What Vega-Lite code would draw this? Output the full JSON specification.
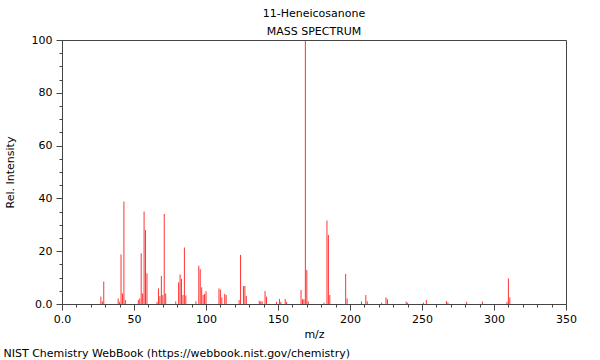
{
  "$schema": "https://vega.github.io/schema/vega-lite/v6.json",
  "width": 504,
  "height": 264,
  "autosize": {"type": "none"},
  "padding": {"left": 62, "top": 40, "right": 34, "bottom": 56},
  "background": "white",
  "title": {
    "text": ["11-Heneicosanone", "MASS SPECTRUM"],
    "fontSize": 11,
    "fontWeight": "normal",
    "font": "DejaVu Sans",
    "color": "#000000",
    "lineHeight": 18,
    "offset": -3,
    "anchor": "middle"
  },
  "config": {
    "view": {"stroke": "#444444", "strokeWidth": 1},
    "axis": {
      "labelFont": "DejaVu Sans",
      "titleFont": "DejaVu Sans",
      "labelFontSize": 11,
      "titleFontSize": 11,
      "titleFontWeight": "normal",
      "labelColor": "#000000",
      "titleColor": "#000000",
      "domainColor": "#444444",
      "tickColor": "#444444",
      "grid": false
    }
  },
  "data": {
    "values": [
      {"mz": 27, "intensity": 2.8}, {"mz": 28, "intensity": 1.0}, {"mz": 29, "intensity": 8.5},
      {"mz": 39, "intensity": 2.1}, {"mz": 40, "intensity": 0.8}, {"mz": 41, "intensity": 18.8},
      {"mz": 42, "intensity": 4.0}, {"mz": 43, "intensity": 38.8}, {"mz": 44, "intensity": 1.5},
      {"mz": 53, "intensity": 1.5}, {"mz": 54, "intensity": 2.1}, {"mz": 55, "intensity": 19.2},
      {"mz": 56, "intensity": 4.0}, {"mz": 57, "intensity": 35.0}, {"mz": 58, "intensity": 28.0},
      {"mz": 59, "intensity": 11.6}, {"mz": 66, "intensity": 0.8}, {"mz": 67, "intensity": 5.9},
      {"mz": 68, "intensity": 3.0}, {"mz": 69, "intensity": 10.6}, {"mz": 70, "intensity": 3.4},
      {"mz": 71, "intensity": 34.1}, {"mz": 72, "intensity": 4.0}, {"mz": 79, "intensity": 1.0},
      {"mz": 81, "intensity": 8.2}, {"mz": 82, "intensity": 11.2}, {"mz": 83, "intensity": 9.5},
      {"mz": 84, "intensity": 3.4}, {"mz": 85, "intensity": 21.4}, {"mz": 86, "intensity": 3.2},
      {"mz": 93, "intensity": 1.0}, {"mz": 95, "intensity": 14.5}, {"mz": 96, "intensity": 13.2},
      {"mz": 97, "intensity": 6.3}, {"mz": 98, "intensity": 3.4}, {"mz": 99, "intensity": 3.8},
      {"mz": 100, "intensity": 4.8}, {"mz": 109, "intensity": 5.9}, {"mz": 110, "intensity": 5.4},
      {"mz": 111, "intensity": 2.5}, {"mz": 113, "intensity": 3.8}, {"mz": 114, "intensity": 3.4},
      {"mz": 123, "intensity": 1.5}, {"mz": 124, "intensity": 18.6}, {"mz": 126, "intensity": 6.8},
      {"mz": 127, "intensity": 6.8}, {"mz": 128, "intensity": 3.0}, {"mz": 137, "intensity": 1.2},
      {"mz": 138, "intensity": 1.0}, {"mz": 139, "intensity": 1.0}, {"mz": 141, "intensity": 4.9},
      {"mz": 142, "intensity": 2.8}, {"mz": 149, "intensity": 0.8}, {"mz": 151, "intensity": 1.9},
      {"mz": 152, "intensity": 0.8}, {"mz": 155, "intensity": 1.9}, {"mz": 156, "intensity": 0.8},
      {"mz": 166, "intensity": 5.3}, {"mz": 167, "intensity": 1.8}, {"mz": 168, "intensity": 1.8},
      {"mz": 169, "intensity": 100}, {"mz": 170, "intensity": 12.9}, {"mz": 171, "intensity": 1.0},
      {"mz": 182, "intensity": 0.5}, {"mz": 184, "intensity": 31.6}, {"mz": 185, "intensity": 26.1},
      {"mz": 186, "intensity": 3.4}, {"mz": 197, "intensity": 11.4}, {"mz": 198, "intensity": 2.1},
      {"mz": 208, "intensity": 1.0}, {"mz": 211, "intensity": 3.4}, {"mz": 212, "intensity": 1.0},
      {"mz": 222, "intensity": 0.5}, {"mz": 225, "intensity": 2.5}, {"mz": 226, "intensity": 1.8},
      {"mz": 239, "intensity": 0.9}, {"mz": 240, "intensity": 0.5}, {"mz": 251, "intensity": 0.5},
      {"mz": 253, "intensity": 1.5}, {"mz": 267, "intensity": 1.1}, {"mz": 268, "intensity": 0.6},
      {"mz": 281, "intensity": 0.8}, {"mz": 292, "intensity": 0.9}, {"mz": 309, "intensity": 0.8},
      {"mz": 310, "intensity": 9.7}, {"mz": 311, "intensity": 2.5}
    ]
  },
  "layer": [
    {
      "mark": {"type": "rule", "color": "#ff0000", "strokeWidth": 1, "opacity": 0.8},
      "encoding": {
        "x": {
          "field": "mz", "type": "quantitative",
          "scale": {"domain": [0, 350], "nice": false, "zero": false},
          "axis": {
            "orient": "bottom",
            "values": [0, 50, 100, 150, 200, 250, 300, 350],
            "labelExpr": "datum.value === 0 ? '0.0' : datum.label",
            "tickSize": 6, "labelPadding": 3, "labelFlush": false,
            "title": "m/z", "titlePadding": 4
          }
        },
        "y": {
          "field": "intensity", "type": "quantitative",
          "scale": {"domain": [0, 100], "nice": false},
          "axis": {
            "orient": "left",
            "values": [0, 20, 40, 60, 80, 100],
            "labelExpr": "datum.value === 0 ? '0.0' : datum.label",
            "tickSize": 6, "labelPadding": 4, "labelFlush": false,
            "title": "Rel. Intensity", "titlePadding": 16
          }
        },
        "y2": {"datum": 0}
      }
    },
    {
      "mark": {"type": "rule", "opacity": 0},
      "encoding": {
        "x": {
          "field": "mz", "type": "quantitative",
          "axis": {
            "orient": "bottom",
            "values": [0,10,20,30,40,50,60,70,80,90,100,110,120,130,140,150,160,170,180,190,200,210,220,230,240,250,260,270,280,290,300,310,320,330,340,350],
            "labels": false, "domain": false, "tickSize": 3,
            "title": "NIST Chemistry WebBook (https://webbook.nist.gov/chemistry)",
            "titleAnchor": null, "titleAlign": "left", "titleBaseline": "middle",
            "titleX": -59, "titleY": 49
          }
        },
        "y": {
          "field": "intensity", "type": "quantitative",
          "axis": {
            "orient": "left",
            "values": [0,5,10,15,20,25,30,35,40,45,50,55,60,65,70,75,80,85,90,95,100],
            "labels": false, "domain": false, "tickSize": 3, "title": null
          }
        },
        "y2": {"datum": 0}
      }
    }
  ],
  "resolve": {"axis": {"x": "independent", "y": "independent"}}
}
